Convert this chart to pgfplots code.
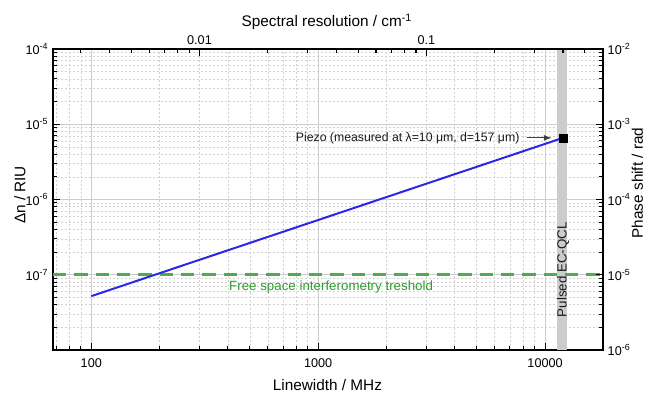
\documentclass[border=0pt]{standalone}
\usepackage{pgfplots}
\pgfplotsset{compat=1.18}
\usepackage{fontspec}
\setmainfont{Liberation Sans}
\usetikzlibrary{arrows.meta}
\definecolor{lineblue}{RGB}{40,40,230}
\definecolor{dashgreen}{RGB}{80,172,80}
\definecolor{textgreen}{RGB}{40,160,40}
\newcommand{\labfont}{\fontsize{11.5}{13}\selectfont}
\begin{document}
\begin{tikzpicture}
\useasboundingbox (-39.75pt,-32.25pt) rectangle (445.5pt,262.5pt);
\pgfplotsset{
  every axis/.append style={
    width=412.5pt, height=225.75pt, scale only axis,
    tick align=inside,
    major tick length=5pt, minor tick length=2.8pt,
    every tick/.style={black, line width=0.8pt},
    axis line style={black, line width=1pt},
    tick label style={font=\fontsize{9.5}{11}\selectfont},
  }
}
% main axis
\begin{axis}[
  xmode=log, ymode=log,
  xmin=67.8, xmax=18000, ymin=1e-8, ymax=1e-4,
  xtick pos=bottom, ytick pos=left,
  xtick={100,1000,10000}, xticklabels={100,1000,10000},
  minor xtick={70,80,90,200,300,400,500,600,700,800,900,2000,3000,4000,5000,6000,7000,8000,9000},
  ytick={1e-8,1e-7,1e-6,1e-5,1e-4},
  yticklabels={,10\textsuperscript{-7},10\textsuperscript{-6},10\textsuperscript{-5},10\textsuperscript{-4}},
  minor ytick={2e-8,3e-8,4e-8,5e-8,6e-8,7e-8,8e-8,9e-8,
               2e-7,3e-7,4e-7,5e-7,6e-7,7e-7,8e-7,9e-7,
               2e-6,3e-6,4e-6,5e-6,6e-6,7e-6,8e-6,9e-6,
               2e-5,3e-5,4e-5,5e-5,6e-5,7e-5,8e-5,9e-5},
  grid=both,
  major grid style={gray!40, line width=0.6pt},
  minor grid style={gray!35, line width=0.5pt, dash pattern=on 1.5pt off 1.5pt},
  xlabel={Linewidth / MHz},
  ylabel={Δn / RIU},
  xticklabel style={yshift=-3pt},
  every axis x label/.style={at={(axis description cs:0.499,-0.1163)}, anchor=center, font=\labfont},
  every axis y label/.style={at={(axis description cs:-0.06,0.515)}, rotate=90, anchor=center, font=\labfont},
  clip=true,
]
\addplot[fill=gray!40, draw=none] coordinates {(11300,1e-8) (12500,1e-8) (12500,1e-4) (11300,1e-4)} -- cycle;
\addplot[color=dashgreen, line width=2pt, dash pattern=on 10pt off 6pt] coordinates {(67.8,1e-7) (18000,1e-7)};
\addplot[color=lineblue, line width=1.5pt] coordinates {(100,5.2e-8) (12000,6.6e-6)};
\addplot[only marks, mark=square*, mark size=3pt, black] coordinates {(12000,6.6e-6)};
\draw[-{Latex[length=6pt,width=4.5pt]}, black!75, line width=0.8pt] (axis cs:8330,6.6e-6) -- (axis cs:10700,6.6e-6);
\node[anchor=east, font=\fontsize{9.2}{11}\selectfont, text=black!90, inner sep=1pt] at (axis cs:7830,6.6e-6) {Piezo (measured at λ=10 μm, d=157 μm)};
\node[rotate=90, font=\fontsize{10}{12}\selectfont, text=black!90, inner sep=0pt] at (axis cs:12000,1.17e-7) {Pulsed EC-QCL};
\node[font=\fontsize{10}{12}\selectfont, text=textgreen] at (axis cs:1140,6.85e-8) {Free space interferometry treshold};
\end{axis}
% right axis
\begin{axis}[
  xmode=log, ymode=log,
  xmin=67.8, xmax=18000, ymin=1e-6, ymax=1e-2,
  axis x line=none, axis y line*=right,
  ytick align=inside,
  ytick={1e-6,1e-5,1e-4,1e-3,1e-2},
  yticklabels={10\textsuperscript{-6},10\textsuperscript{-5},10\textsuperscript{-4},10\textsuperscript{-3},10\textsuperscript{-2}},
  minor ytick={2e-6,3e-6,4e-6,5e-6,6e-6,7e-6,8e-6,9e-6,
               2e-5,3e-5,4e-5,5e-5,6e-5,7e-5,8e-5,9e-5,
               2e-4,3e-4,4e-4,5e-4,6e-4,7e-4,8e-4,9e-4,
               2e-3,3e-3,4e-3,5e-3,6e-3,7e-3,8e-3,9e-3},
  ylabel={Phase shift / rad},
  every axis y label/.style={at={(axis description cs:1.0627,0.555)}, rotate=90, anchor=center, font=\labfont},
]
\addplot[draw=none] coordinates {(100,1e-4)};
\end{axis}
% top axis
\begin{axis}[
  xmode=log,
  xmin=0.0022616, xmax=0.60042, ymin=0, ymax=1,
  axis y line=none, axis x line*=top,
  xtick align=inside,
  xtick={0.01,0.1}, xticklabels={0.01,0.1},
  minor xtick={0.003,0.004,0.005,0.006,0.007,0.008,0.009,0.02,0.03,0.04,0.05,0.06,0.07,0.08,0.09,0.2,0.3,0.4,0.5,0.6},
  xlabel={Spectral resolution / cm\textsuperscript{-1}},
  every axis x label/.style={at={(axis description cs:0.498,1.0897)}, anchor=center, font=\labfont},
]
\addplot[draw=none] coordinates {(0.01,0.5)};
\end{axis}
\end{tikzpicture}
\end{document}
